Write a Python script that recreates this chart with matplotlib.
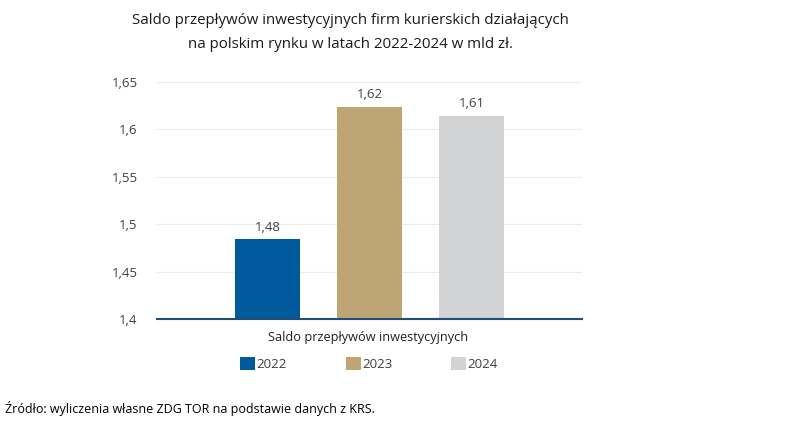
import matplotlib.pyplot as plt
import numpy as np

plt.rcParams['font.family'] = ['Open Sans', 'DejaVu Sans']

years = ['2022', '2023', '2024']
values = [1.484, 1.624, 1.614]
colors = ['#005A9C', '#BFA574', '#D1D3D4']
category = 'Saldo przepływów inwestycyjnych'
yticks = [1.4, 1.45, 1.5, 1.55, 1.6, 1.65]

fig = plt.figure(figsize=(7.88, 4.22), dpi=100)
ax = fig.add_axes([157/788, 1 - 319/422, 425/788, 237/422])

pos = np.arange(len(years)) - 1
bars = ax.bar(pos, [v - 1.4 for v in values], bottom=1.4, width=0.63,
              color=colors, label=years, zorder=2)
for x, v in zip(pos, values):
    ax.text(x, v + 0.006, f'{v:.2f}'.replace('.', ','), ha='center', va='bottom',
            fontsize=9.5, color='#404040')

ax.set_xlim(-2.08, 2.08)
ax.set_ylim(1.4, 1.65)
ax.set_yticks(yticks)
ax.set_yticklabels([f'{t:g}'.replace('.', ',') for t in yticks])
ax.tick_params(axis='y', length=0, pad=14, labelsize=9.5, labelcolor='#404040')
ax.set_xticks([])
ax.grid(axis='y', color='#EBEBEB', linewidth=0.8, zorder=0)
for s in ['top', 'right', 'left']:
    ax.spines[s].set_visible(False)
ax.spines['bottom'].set_color('#1F4E79')
ax.spines['bottom'].set_linewidth(1.5)
ax.spines['bottom'].set_zorder(3)

fig.text(368/788, 1 - 337/422, category, ha='center', va='center',
         fontsize=9.2, color='#202020')

ax.legend(handles=list(bars), labels=years, loc='center', ncol=3,
          bbox_to_anchor=(369/788, 1 - 364/422), bbox_transform=fig.transFigure,
          frameon=False, handlelength=1.1, handleheight=1.1, handletextpad=0.1,
          columnspacing=4.5, fontsize=9.5, labelcolor='#404040')

# two-line title, slightly heavier than body text
fig.text(350/788, 1 - 20/422, 'Saldo przepływów inwestycyjnych firm kurierskich działających',
         ha='center', va='center', fontsize=10.8, fontweight='medium', color='#1a1a1a')
fig.text(351/788, 1 - 45/422, 'na polskim rynku w latach 2022-2024 w mld zł.',
         ha='center', va='center', fontsize=10.8, fontweight='medium', color='#1a1a1a')

fig.text(5/788, 1 - 409/422, 'Źródło: wyliczenia własne ZDG TOR na podstawie danych z KRS.',
         ha='left', va='center', fontsize=9, color='#000000')

fig.savefig('out.png', dpi=100)
